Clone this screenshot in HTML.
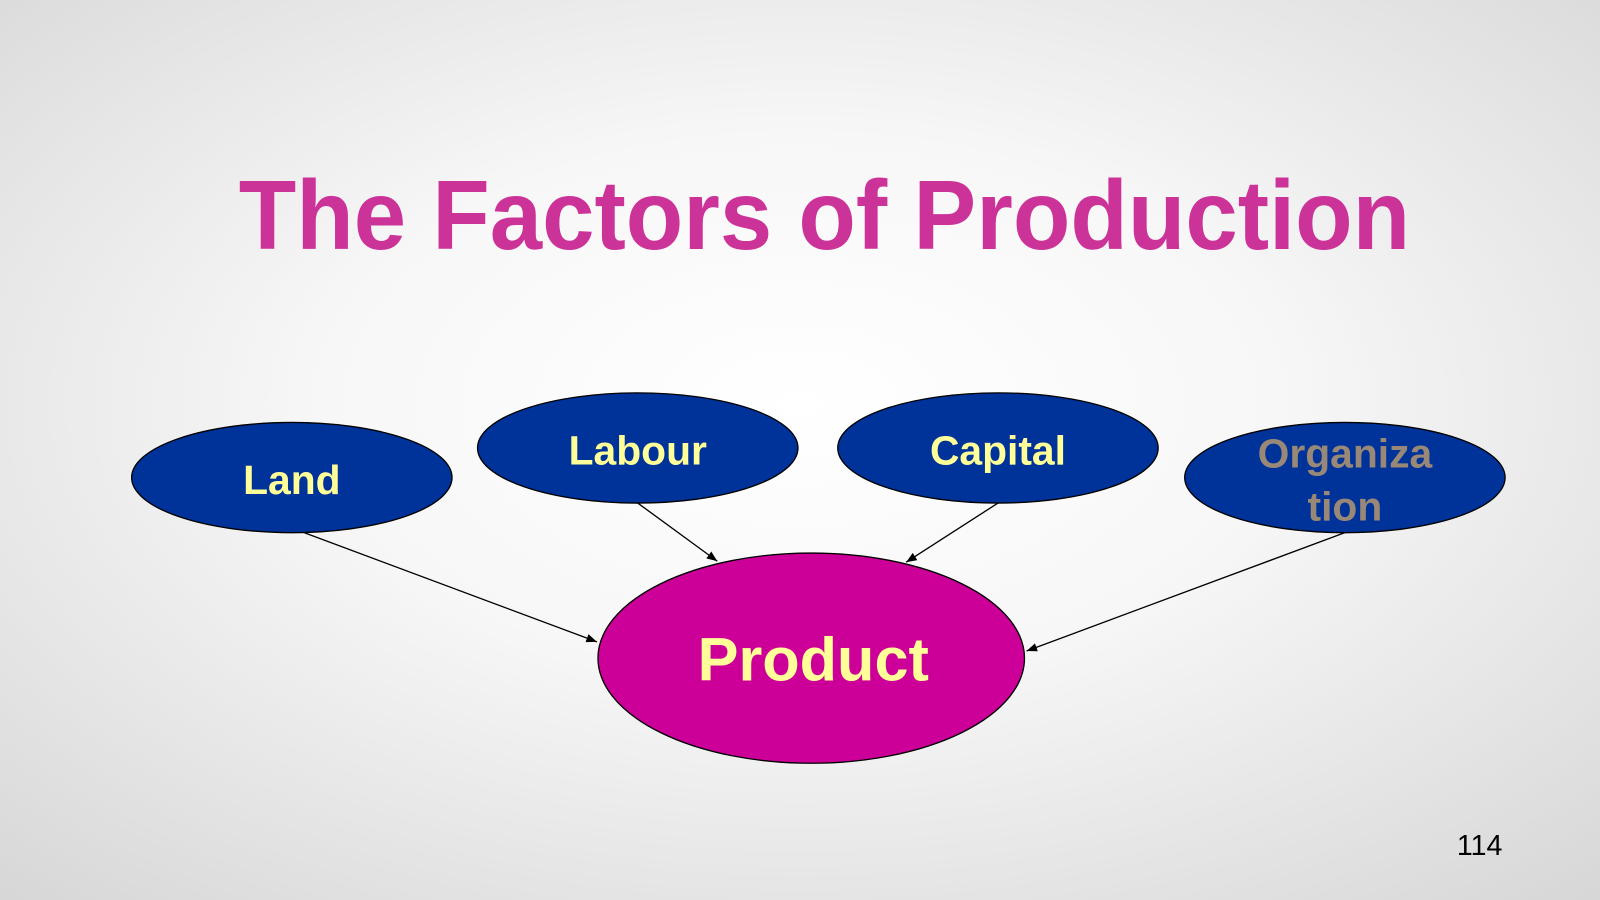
<!DOCTYPE html>
<html>
<head>
<meta charset="utf-8">
<style>
html,body{margin:0;padding:0;width:1600px;height:900px;overflow:hidden;}
svg{display:block;}
text{font-family:"Liberation Sans",sans-serif;font-weight:bold;}
</style>
</head>
<body>
<svg width="1600" height="900" viewBox="0 0 1568 882" preserveAspectRatio="none">
  <defs>
    <radialGradient id="bg" cx="50%" cy="45%" r="75%">
      <stop offset="0" stop-color="#ffffff"/>
      <stop offset="0.4" stop-color="#f7f7f7"/>
      <stop offset="1" stop-color="#d6d6d6"/>
    </radialGradient>
    <marker id="arr" viewBox="0 0 10 10" refX="10" refY="5" markerWidth="8" markerHeight="8" orient="auto">
      <path d="M0,1 L10,5 L0,9 z" fill="#000"/>
    </marker>
  </defs>
  <rect width="1568" height="882" fill="url(#bg)"/>
  <text x="808" y="244" font-size="96" fill="#cc3399" text-anchor="middle" textLength="1148" lengthAdjust="spacingAndGlyphs">The Factors of Production</text>

  <g stroke="#000" stroke-width="1.3">
    <line x1="298" y1="522" x2="585" y2="629" marker-end="url(#arr)"/>
    <line x1="625" y1="493" x2="703" y2="550" marker-end="url(#arr)"/>
    <line x1="978" y1="493" x2="888" y2="551" marker-end="url(#arr)"/>
    <line x1="1318" y1="522" x2="1006" y2="638" marker-end="url(#arr)"/>
  </g>

  <g>
    <ellipse cx="286" cy="468" rx="157" ry="54" fill="#003399" stroke="#000" stroke-width="1.3"/>
    <text x="286" y="484" font-size="40" fill="#ffff99" text-anchor="middle">Land</text>
  </g>
  <g>
    <ellipse cx="625" cy="439" rx="157" ry="54" fill="#003399" stroke="#000" stroke-width="1.3"/>
    <text x="625" y="455" font-size="40" fill="#ffff99" text-anchor="middle">Labour</text>
  </g>
  <g>
    <ellipse cx="978" cy="439" rx="157" ry="54" fill="#003399" stroke="#000" stroke-width="1.3"/>
    <text x="978" y="455" font-size="40" fill="#ffff99" text-anchor="middle">Capital</text>
  </g>
  <g>
    <ellipse cx="1318" cy="468" rx="157" ry="54" fill="#003399" stroke="#000" stroke-width="1.3"/>
    <text x="1318" y="458" font-size="40" fill="#998877" text-anchor="middle">Organiza</text>
    <text x="1318" y="510" font-size="40" fill="#998877" text-anchor="middle">tion</text>
  </g>
  <g>
    <ellipse cx="795" cy="645" rx="209" ry="103" fill="#cc0099" stroke="#000" stroke-width="1.3"/>
    <text x="797" y="667" font-size="60" fill="#ffff99" text-anchor="middle">Product</text>
  </g>

  <text x="1450" y="838" font-size="28" fill="#000" text-anchor="middle" style="font-weight:normal">114</text>
</svg>
</body>
</html>
